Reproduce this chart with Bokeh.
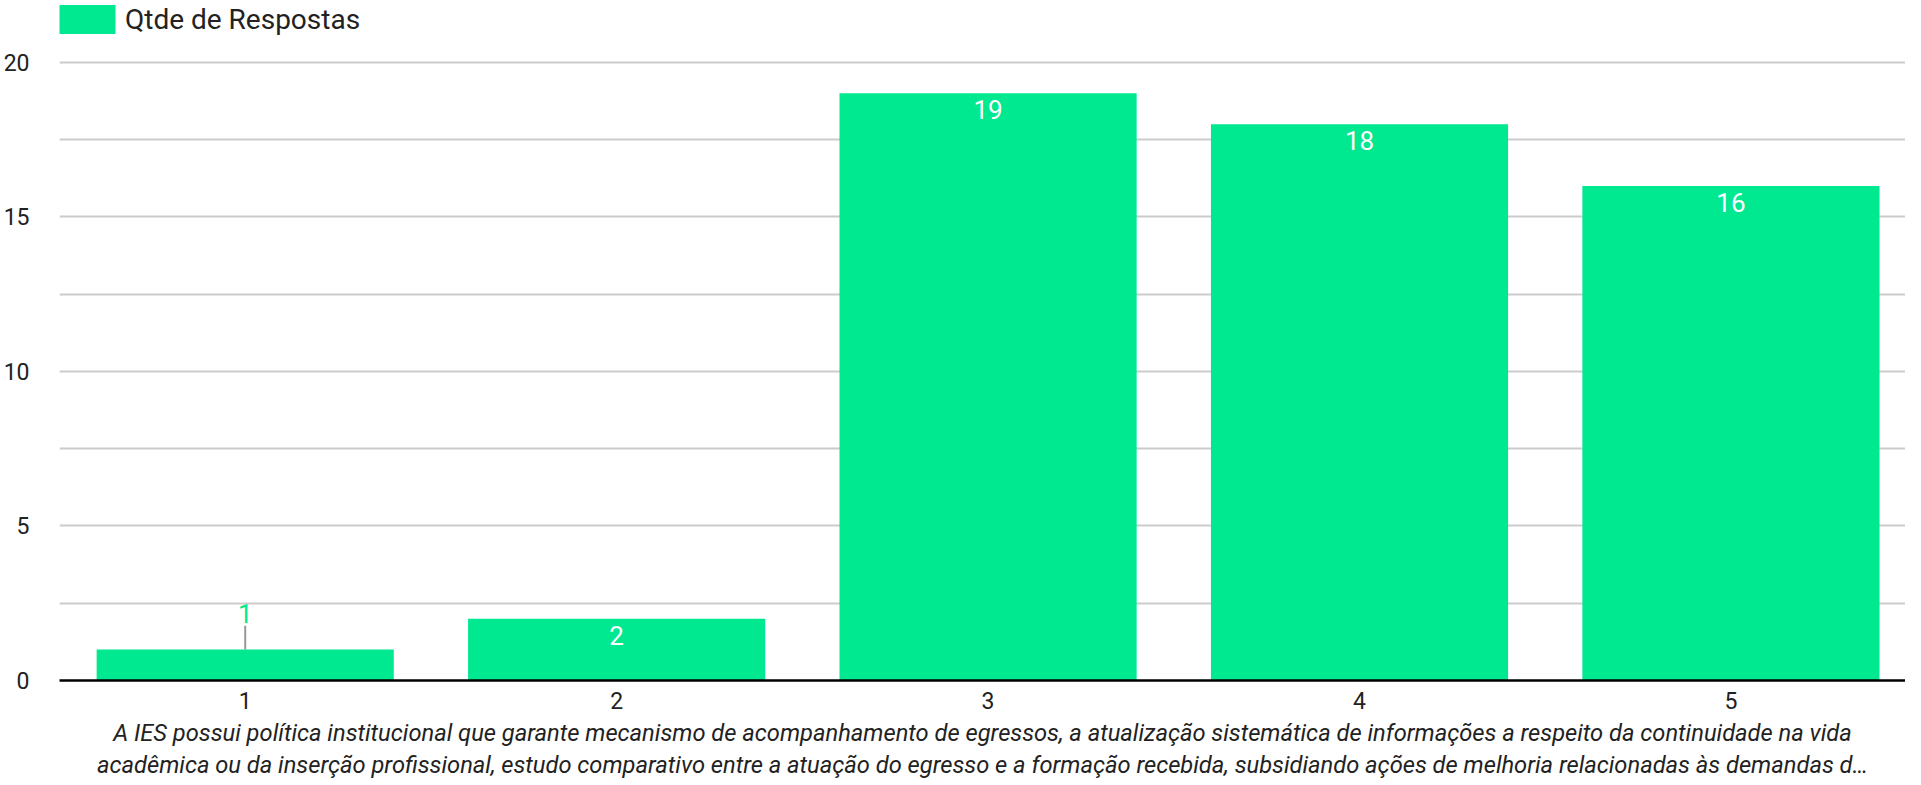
from bokeh.plotting import figure
from bokeh.models import (Range1d, FixedTicker, SingleIntervalTicker, Legend, LegendItem,
                          ColumnDataSource)
from bokeh.core.properties import value
from bokeh.embed import file_html
from bokeh.resources import INLINE

categories = ["1", "2", "3", "4", "5"]
respostas = [1, 2, 19, 18, 16]
series_name = "Qtde de Respostas"
x_title = ("A IES possui política institucional que garante mecanismo de acompanhamento de egressos, "
           "a atualização sistemática de informações a respeito da continuidade na vida\n"
           "acadêmica ou da inserção profissional, estudo comparativo entre a atuação do egresso e a "
           "formação recebida, subsidiando ações de melhoria relacionadas às demandas d…")

GREEN = "#00E890"
FONT = "Roboto"

xs = [i + 1 for i in range(len(categories))]

p = figure(width=1905, height=785, output_backend="svg", toolbar_location=None,
           x_range=Range1d(0.5, 5.47), y_range=Range1d(0, 22.0),
           min_border_left=54, min_border_right=0, min_border_top=0, min_border_bottom=105)
p.outline_line_color = None
p.background_fill_color = "white"

src = ColumnDataSource(dict(x=xs, top=respostas, lab=[str(v) for v in respostas]))
bars = p.vbar(x="x", top="top", width=0.8, source=src, fill_color=GREEN, line_color=None)

# labels: inside bar (white) if tall enough, otherwise above bar with leader line
inside = [i for i, v in enumerate(respostas) if v >= 2]
outside = [i for i, v in enumerate(respostas) if v < 2]
p.text(x=[xs[i] for i in inside], y=[respostas[i] for i in inside],
       text=[str(respostas[i]) for i in inside], text_color="white",
       text_font=value(FONT), text_font_size="26px", text_align="center",
       text_baseline="top", y_offset=7)
for i in outside:
    v = respostas[i]
    p.segment(x0=[xs[i]], y0=[v], x1=[xs[i]], y1=[v + 0.77], line_color="#999999", line_width=2)
    p.text(x=[xs[i]], y=[v], text=[str(v)], text_color=GREEN,
           text_font=value(FONT), text_font_size="26px", text_align="center",
           text_baseline="bottom", y_offset=-27)

# axes
p.xaxis.ticker = FixedTicker(ticks=xs)
p.xaxis.major_label_overrides = {x: c for x, c in zip(xs, categories)}
p.xaxis.axis_line_color = "black"
p.xaxis.axis_line_width = 2.5
p.xaxis.major_tick_line_color = None
p.xaxis.minor_tick_line_color = None
p.xaxis.major_tick_out = 0
p.xaxis.major_label_standoff = 11
p.xaxis.major_label_text_font = FONT
p.xaxis.major_label_text_font_size = "23px"
p.xaxis.major_label_text_color = "#222222"
p.xaxis.axis_label = x_title
p.xaxis.axis_label_text_font = FONT
p.xaxis.axis_label_text_font_style = "italic"
p.xaxis.axis_label_text_font_size = "23.7px"
p.xaxis.axis_label_text_line_height = 1.17
p.xaxis.axis_label_text_color = "#222222"
p.xaxis.axis_label_standoff = 7

p.yaxis.ticker = SingleIntervalTicker(interval=5)
p.yaxis.axis_line_color = None
p.yaxis.major_tick_line_color = None
p.yaxis.minor_tick_line_color = None
p.yaxis.major_tick_out = 0
p.yaxis.major_label_standoff = 26
p.yaxis.major_label_text_font = FONT
p.yaxis.major_label_text_font_size = "23px"
p.yaxis.major_label_text_color = "#222222"

p.xgrid.grid_line_color = None
p.ygrid.ticker = SingleIntervalTicker(interval=2.5)
p.ygrid.grid_line_color = "#cccccc"
p.ygrid.grid_line_width = 2

legend = Legend(items=[LegendItem(label=series_name, renderers=[bars])],
                location=(-7, 643), orientation="horizontal",
                glyph_width=70, glyph_height=36, label_standoff=3,
                label_text_font=FONT, label_text_font_size="28px", label_text_color="#222222",
                padding=0, margin=0, spacing=0, border_line_color=None,
                background_fill_alpha=0)
p.add_layout(legend)

open("out.html", "w").write(file_html(p, INLINE))
